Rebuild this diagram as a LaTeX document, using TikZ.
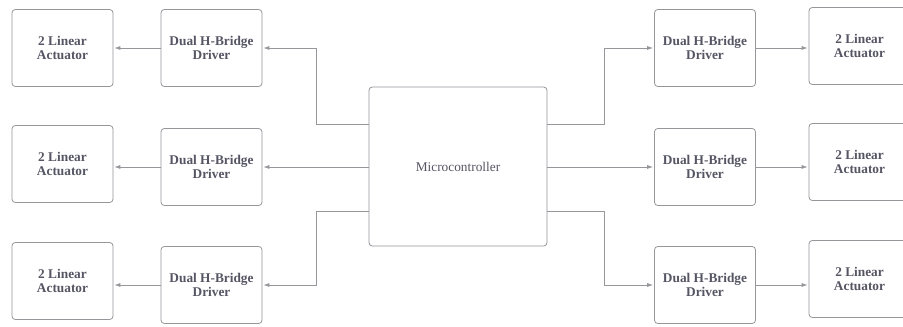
\documentclass[tikz,border=0pt]{standalone}
\usepackage{fontspec}
\setmainfont{Liberation Serif}
\usetikzlibrary{arrows.meta}
\definecolor{boxline}{RGB}{150,150,155}
\definecolor{boxtext}{RGB}{85,85,100}
\begin{document}
\begin{tikzpicture}[x=0.75pt,y=-0.75pt,
  blk/.style={draw=boxline,line width=0.6pt,rounded corners=2.5pt,inner sep=0pt,outer sep=0pt,
    minimum width=75.75pt,minimum height=57.75pt,align=center,text=boxtext,
    font=\fontsize{10}{11}\selectfont\bfseries},
  mcubox/.style={blk,minimum width=133.5pt,minimum height=119.25pt,font=\fontsize{10}{12}\selectfont},
  link/.style={draw=boxline,line width=0.6pt,-{Latex[length=4.5pt,width=3pt]},shorten >=1pt}]
% page frame 903x327, right column runs off the edge
\useasboundingbox (0,0) rectangle (903,327);
\fill[white] (0,0) rectangle (903,327);
\clip (0,0) rectangle (903,327);
% central controller
\node[mcubox] (mcu) at (458,166.5) {Microcontroller};
% three rows of driver + actuator on each side
\foreach \i/\ya/\yd in {1/48/48,2/164/167,3/281/285} {
  \node[blk] (la\i) at (62.5,\ya) {2 Linear\\Actuator};
  \node[blk] (ld\i) at (211.5,\yd) {Dual H-Bridge\\Driver};
  \node[blk] (rd\i) at (705,\yd) {Dual H-Bridge\\Driver};
  \node[blk] (ra\i) at (859.5,\ya-2) {2 Linear\\Actuator};
}
% taps on the controller edges
\coordinate (mL1) at (369,124); \coordinate (mL3) at (369,211);
\coordinate (mR1) at (547,124); \coordinate (mR3) at (547,211);
% controller -> drivers
\draw[link] (mL1) -- ++(-53,0) |- (ld1.east);
\draw[link] (mcu.west |- ld2) -- (ld2.east);
\draw[link] (mL3) -- ++(-53,0) |- (ld3.east);
\draw[link] (mR1) -- ++(57,0) |- (rd1.west);
\draw[link] (mcu.east |- rd2) -- (rd2.west);
\draw[link] (mR3) -- ++(57,0) |- (rd3.west);
% drivers -> actuators
\foreach \i in {1,2,3} {
  \draw[link] (ld\i.west) -- (la\i.east |- ld\i.west);
  \draw[link] (rd\i.east) -- (ra\i.west |- rd\i.east);
}
\end{tikzpicture}
\end{document}
